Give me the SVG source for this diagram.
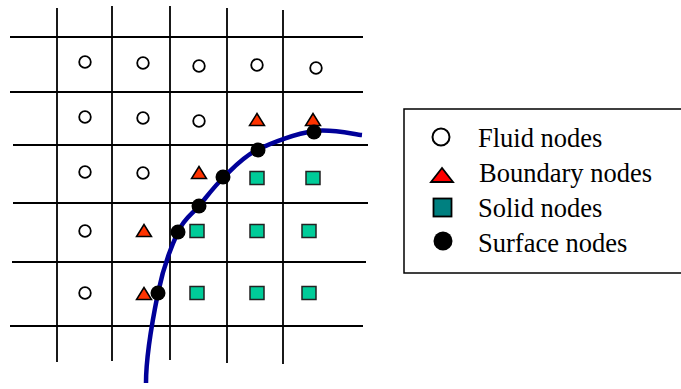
<svg xmlns="http://www.w3.org/2000/svg" width="681" height="389" viewBox="0 0 681 389">
<style>
.grid line{stroke:#000;stroke-width:1.8}
.fluid{fill:#fff;stroke:#000;stroke-width:1.8}
.bnd{fill:#ff3300;stroke:#000;stroke-width:1.5}
.solid{fill:#00cc99;stroke:#222;stroke-width:1.5}
.surf{fill:#000}
.lbl{font-family:"Liberation Serif","Times New Roman",serif;font-size:26.5px;fill:#000}
</style>
<defs>
<circle id="fc" r="5.8" class="fluid"/>
<polygon id="bt" points="0,-6.5 -7.5,5.5 7.5,5.5" class="bnd"/>
<rect id="sq" x="-7" y="-6.5" width="14" height="13" class="solid"/>
<circle id="sd" r="7.5" class="surf"/>
</defs>
<g id="grid" class="grid">
<line x1="57" y1="8" x2="57" y2="362"/>
<line x1="112" y1="6" x2="112" y2="361"/>
<line x1="170" y1="6" x2="170" y2="360"/>
<line x1="227" y1="8" x2="227" y2="363"/>
<line x1="283" y1="10" x2="283" y2="364"/>
<line x1="10" y1="37" x2="363" y2="37"/>
<line x1="10" y1="92" x2="363" y2="92"/>
<line x1="13" y1="145" x2="368" y2="145"/>
<line x1="13" y1="203" x2="368" y2="203"/>
<line x1="12" y1="262" x2="366" y2="262"/>
<line x1="10" y1="326" x2="363" y2="326"/>
</g>
<g id="connectors">
<path id="surface" d="M362,135 C354,134.3 331.5,128.5 314,131 C296.5,133.5 272,142.3 257,150 C242,157.7 233.7,167.7 224,177 C214.3,186.3 206.7,196.8 199,206 C191.3,215.2 184.8,217.5 178,232 C171.2,246.5 163.2,267.5 158,293 C152.8,318.5 146,355 146,383" fill="none" stroke="#000099" stroke-width="4.5"/>
</g>
<g id="fluid-nodes">
<use href="#fc" x="85" y="62"/><use href="#fc" x="143" y="63"/><use href="#fc" x="199" y="66"/><use href="#fc" x="257" y="65"/><use href="#fc" x="316" y="68"/>
<use href="#fc" x="85" y="117"/><use href="#fc" x="143" y="118"/><use href="#fc" x="199" y="121"/>
<use href="#fc" x="85" y="172"/><use href="#fc" x="143" y="173"/>
<use href="#fc" x="85" y="231"/>
<use href="#fc" x="85" y="293"/>
</g>
<g id="boundary-nodes">
<use href="#bt" x="257" y="120"/><use href="#bt" x="313" y="120"/>
<use href="#bt" x="199" y="173"/>
<use href="#bt" x="144" y="231"/>
<use href="#bt" x="144" y="294"/>
</g>
<g id="solid-nodes">
<use href="#sq" x="257" y="178"/><use href="#sq" x="313" y="178"/>
<use href="#sq" x="197" y="231"/><use href="#sq" x="257" y="231"/><use href="#sq" x="309" y="231"/>
<use href="#sq" x="197" y="293"/><use href="#sq" x="257" y="293"/><use href="#sq" x="309" y="293"/>
</g>
<g id="surface-nodes">
<use href="#sd" x="314" y="132"/><use href="#sd" x="258" y="150"/><use href="#sd" x="223" y="177"/>
<use href="#sd" x="199" y="206"/><use href="#sd" x="178" y="232"/><use href="#sd" x="158" y="293"/>
</g>
<g id="legend">
<rect x="404" y="109" width="290" height="164" fill="#fff" stroke="#000" stroke-width="1.5"/>
<circle cx="441" cy="137" r="8.5" fill="#fff" stroke="#000" stroke-width="2"/>
<polygon points="442,168 431,182 453,182" fill="#ff0000" stroke="#000" stroke-width="1.8"/>
<rect x="433.5" y="198.5" width="18" height="18" fill="#008080" stroke="#000" stroke-width="1.8"/>
<circle cx="443" cy="241" r="9.5" fill="#000"/>
<text class="lbl" x="478" y="147">Fluid nodes</text>
<text class="lbl" x="479" y="182">Boundary nodes</text>
<text class="lbl" x="478" y="217">Solid nodes</text>
<text class="lbl" x="478" y="252">Surface nodes</text>
</g>
</svg>
